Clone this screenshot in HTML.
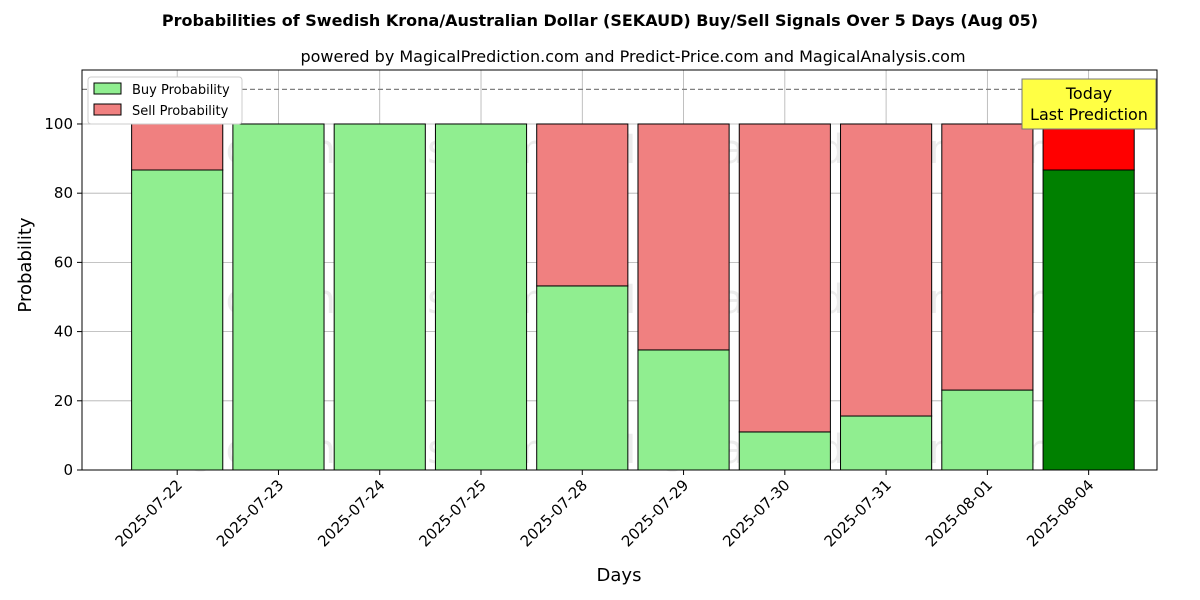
<!DOCTYPE html>
<html><head><meta charset="utf-8"><style>
html,body{margin:0;padding:0;background:#fff;}
svg{display:block;font-family:"DejaVu Sans","Liberation Sans",sans-serif;}
</style></head><body>
<svg id="chart" width="1200" height="600" viewBox="0 0 1200 600">
<text x="600" y="26" text-anchor="middle" font-size="16" font-weight="bold">Probabilities of Swedish Krona/Australian Dollar (SEKAUD) Buy/Sell Signals Over 5 Days (Aug 05)</text>
<text x="633" y="62" text-anchor="middle" font-size="16">powered by MagicalPrediction.com and Predict-Price.com and MagicalAnalysis.com</text>
<g id="grid"></g>
<g id="watermarks" font-size="40" fill="#c8c8c8" fill-opacity="0.35">
<text x="130" y="163">MagicalAnalysis.com</text><text x="602" y="163">MagicalPrediction.com</text>
<text x="130" y="313">MagicalAnalysis.com</text><text x="602" y="313">MagicalPrediction.com</text>
<text x="130" y="463">MagicalAnalysis.com</text><text x="602" y="463">MagicalPrediction.com</text>
</g>
<g id="bars"></g>
<line x1="82" x2="1157" y1="89.4" y2="89.4" stroke="#808080" stroke-width="1.3" stroke-dasharray="5,3"/>
<rect x="82" y="70" width="1075" height="400" fill="none" stroke="#000" stroke-width="1"/>
<g id="axes"></g>
<text x="36" y="270" text-anchor="middle" font-size="18" transform="rotate(-90 31 270)">Probability</text>
<text x="619" y="581" text-anchor="middle" font-size="18">Days</text>
<g>
<rect x="88" y="77" width="154" height="47" fill="#fff" stroke="#ccc" rx="3"/>
<rect x="94" y="83" width="27" height="11" fill="#90ee90" stroke="#000"/>
<text x="132" y="94" font-size="13">Buy Probability</text>
<rect x="94" y="104" width="27" height="11" fill="#f08080" stroke="#000"/>
<text x="132" y="115" font-size="13">Sell Probability</text>
</g>
<g>
<rect x="1022" y="79" width="134" height="50" fill="#ffff44" stroke="#777"/>
<text x="1089" y="99" text-anchor="middle" font-size="16">Today</text>
<text x="1089" y="120" text-anchor="middle" font-size="16">Last Prediction</text>
</g>
</svg>
<script>
const categories=["2025-07-22","2025-07-23","2025-07-24","2025-07-25","2025-07-28","2025-07-29","2025-07-30","2025-07-31","2025-08-01","2025-08-04"];
const buyValues=[86.7,100,100,100,53.2,34.7,11.0,15.6,23.1,86.7];
const sellValues=[13.3,0,0,0,46.8,65.3,89.0,84.4,76.9,13.3];
const yTicks=[0,20,40,60,80,100];
const NS="http://www.w3.org/2000/svg";
const L=82,R=1157,T=70,B=470;
const xMin=-0.94,xMax=9.675,yMin=0,yMax=115.6;
const xs=i=>L+(i-xMin)/(xMax-xMin)*(R-L);
const ys=v=>B-(v-yMin)/(yMax-yMin)*(B-T);
const bw=0.9*(R-L)/(xMax-xMin);
function mk(tag,attrs,parent){const e=document.createElementNS(NS,tag);for(const k in attrs)e.setAttribute(k,attrs[k]);parent.appendChild(e);return e;}
const grid=document.getElementById('grid'),bars=document.getElementById('bars'),axes=document.getElementById('axes');
yTicks.forEach(t=>{
 const y=ys(t);
 const g=mk('line',{x1:L,x2:R,y1:y,y2:y,stroke:'#b0b0b0','stroke-width':0.8},grid);
 
 
 mk('line',{x1:L-5,x2:L,y1:y,y2:y,stroke:'#000'},axes);
 const tx=mk('text',{x:L-9,y:y+5,'text-anchor':'end','font-size':15},axes);
 tx.textContent=t;
 
 
});
categories.forEach((c,i)=>{
 const x=xs(i);
 const g=mk('line',{x1:x,x2:x,y1:T,y2:B,stroke:'#b0b0b0','stroke-width':0.8},grid);
 
 
 const today=i===categories.length-1;
 const b=mk('rect',{x:x-bw/2,y:ys(buyValues[i]),width:bw,height:ys(0)-ys(buyValues[i]),fill:today?'#008000':'#90ee90',stroke:'#000','stroke-width':1},bars);
 
 
 const s=mk('rect',{x:x-bw/2,y:ys(buyValues[i]+sellValues[i]),width:bw,height:ys(buyValues[i])-ys(buyValues[i]+sellValues[i]),fill:today?'#ff0000':'#f08080',stroke:'#000','stroke-width':1},bars);
 
 
 mk('line',{x1:x,x2:x,y1:B,y2:B+5,stroke:'#000'},axes);
 const tx=mk('text',{x:x+6,y:B+16,'text-anchor':'end','font-size':15,transform:`rotate(-45 ${x+6} ${B+16})`},axes);
 tx.textContent=c;
 
 
});
</script>
</body></html>
